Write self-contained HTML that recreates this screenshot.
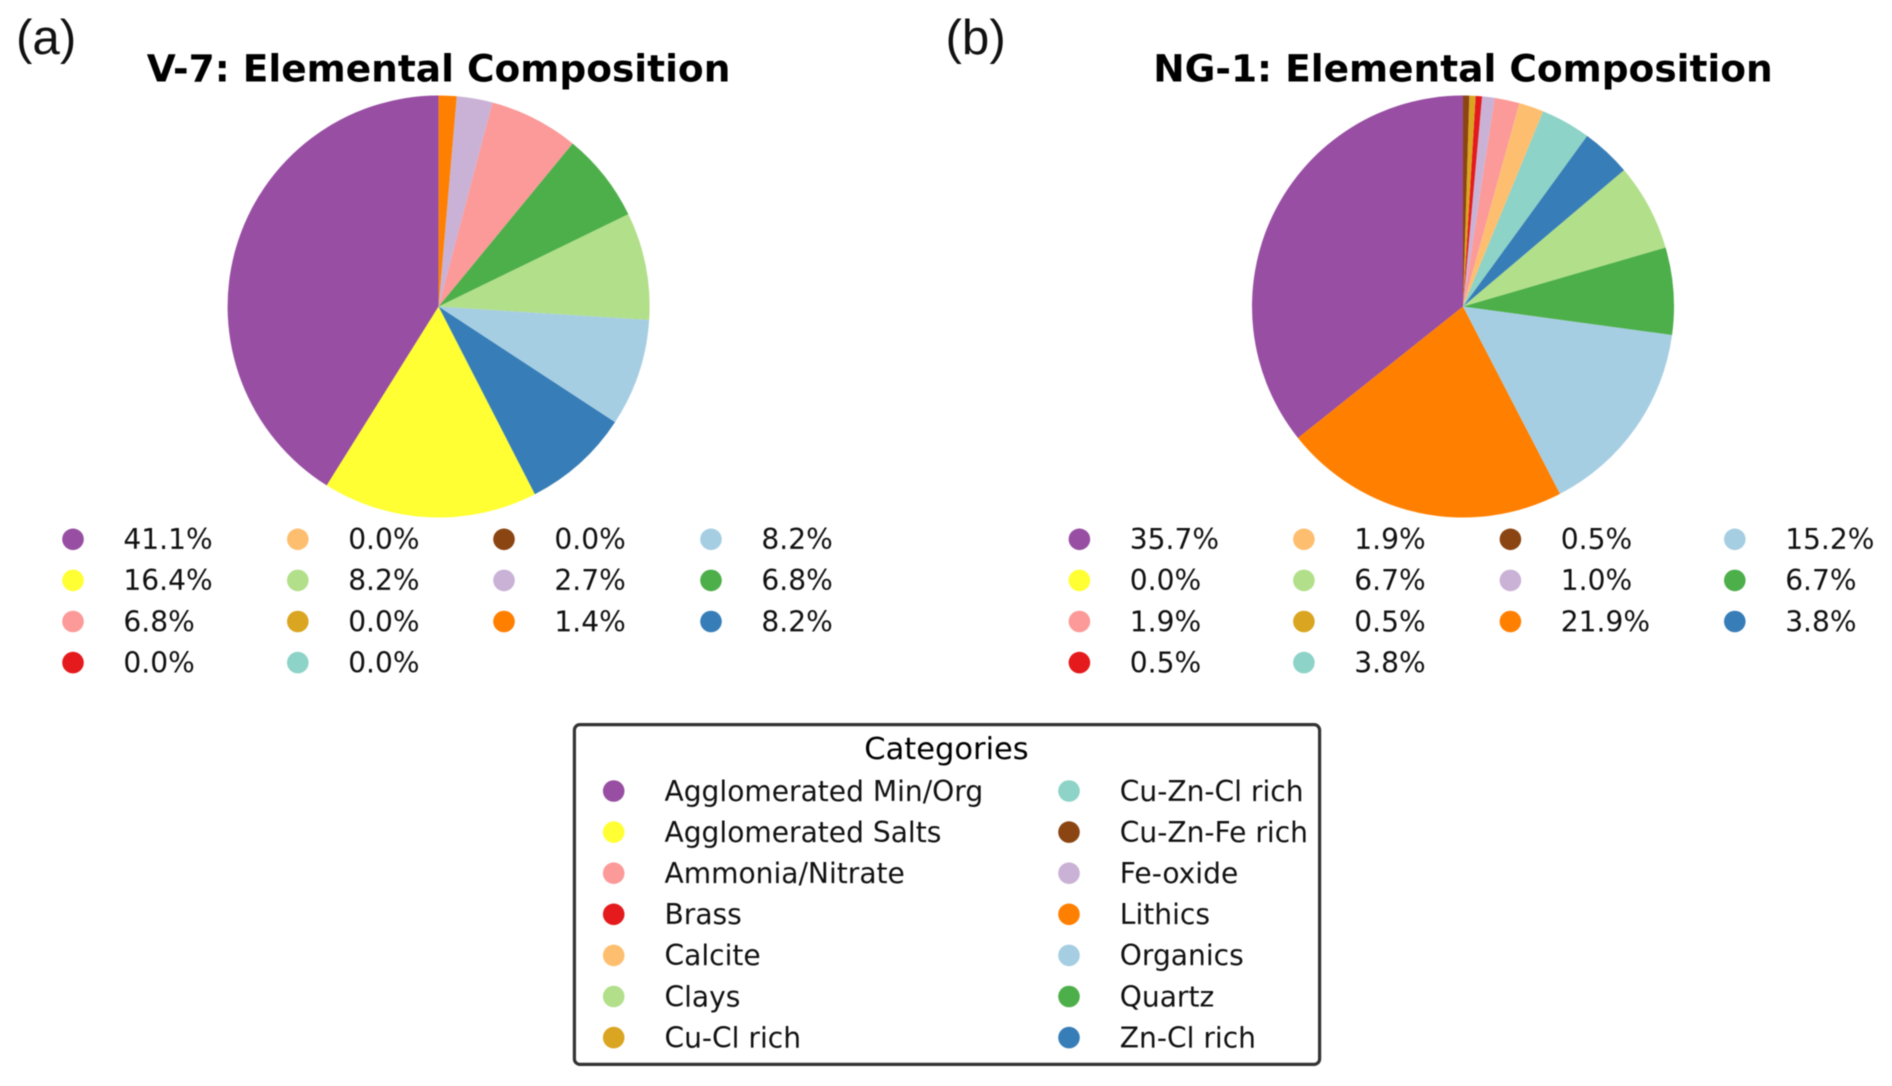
<!DOCTYPE html>
<html lang="en">
<head>
<meta charset="utf-8">
<title>Elemental Composition Pie Charts</title>
<style>
  html, body { margin: 0; padding: 0; background: #fff; }
  body { width: 1892px; height: 1086px; overflow: hidden; }
  svg { display: block; filter: blur(0.45px); }
  text { font-family: "DejaVu Sans", "Liberation Sans", sans-serif; fill: #000; }
  .panel-tag { font-family: "Liberation Sans", sans-serif; font-size: 49.3px; fill: #111; }
  .pie-title { font-weight: bold; font-size: 37.5px; text-anchor: middle; }
  .legend-text { font-size: 28.1px; dominant-baseline: central; fill: #111; }
</style>
</head>
<body>
<svg id="figure" xmlns="http://www.w3.org/2000/svg" width="1892" height="1086" viewBox="0 0 1892 1086">
  <rect x="0" y="0" width="1892" height="1086" fill="#ffffff"/>
  <text class="panel-tag" x="16" y="54">(a)</text>
  <text class="panel-tag" x="945.5" y="54">(b)</text>
  <text class="pie-title" x="438.6" y="81.4">V-7: Elemental Composition</text>
  <text class="pie-title" x="1463" y="81.4">NG-1: Elemental Composition</text>
  <g id="pie-a"></g>
  <g id="pie-b"></g>
  <g id="values-a"></g>
  <g id="values-b"></g>
  <g id="categories">
    <rect x="574.4" y="724.6" width="745.2" height="339.8" rx="5.5" ry="5.5" fill="#ffffff" stroke="#333333" stroke-width="3.2"/>
    <text x="946.5" y="759" font-size="30.5" text-anchor="middle" fill="#111">Categories</text>
  </g>
</svg>
<script>
// Chart data
const categories = [
  'Agglomerated Min/Org', 'Agglomerated Salts', 'Ammonia/Nitrate', 'Brass',
  'Calcite', 'Clays', 'Cu-Cl rich', 'Cu-Zn-Cl rich', 'Cu-Zn-Fe rich',
  'Fe-oxide', 'Lithics', 'Organics', 'Quartz', 'Zn-Cl rich'
];
const categoryColors = [
  '#984ea3', '#ffff33', '#fb9a99', '#e41a1c',
  '#fdbf6f', '#b2df8a', '#daa520', '#8dd3c7', '#8b4513',
  '#cab2d6', '#ff7f00', '#a6cee3', '#4daf4a', '#377eb8'
];
const v7Values  = [41.10, 16.44, 6.84, 0.0, 0.0, 8.22, 0.0, 0.0, 0.0, 2.74, 1.37, 8.22, 6.84, 8.22];
const ng1Values = [35.71, 0.0, 1.90, 0.485, 1.90, 6.67, 0.48, 3.81, 0.475, 0.96, 21.90, 15.24, 6.67, 3.81];

const SVG_NS = 'http://www.w3.org/2000/svg';

// Pie angle: 0 at 12 o'clock, growing counter-clockwise
function angleScale(value, total) {
  return value / total * Math.PI * 2;
}
function polarX(cx, r, a) { return cx - r * Math.sin(a); }
function polarY(cy, r, a) { return cy - r * Math.cos(a); }

function drawPie(groupId, values, cx, cy, r, prefix) {
  const group = document.getElementById(groupId);
  const total = values.reduce(function (s, v) { return s + v; }, 0);
  const order = values.map(function (v, i) { return i; })
    .filter(function (i) { return values[i] > 0; })
    .sort(function (p, q) { return (values[q] - values[p]) || (q - p); });
  let start = 0;
  order.forEach(function (i) {
    const sweep = angleScale(values[i], total);
    const end = start + sweep;
    const large = sweep > Math.PI ? 1 : 0;
    const d = 'M' + cx + ' ' + cy +
      'L' + polarX(cx, r, start).toFixed(2) + ' ' + polarY(cy, r, start).toFixed(2) +
      'A' + r + ' ' + r + ' 0 ' + large + ' 0 ' +
      polarX(cx, r, end).toFixed(2) + ' ' + polarY(cy, r, end).toFixed(2) + 'Z';
    const slice = document.createElementNS(SVG_NS, 'path');
    slice.setAttribute('d', d);
    slice.setAttribute('fill', categoryColors[i]);
    
    
    group.appendChild(slice);
    start = end;
  });
}

function addLegendEntry(group, name, label, color, markerX, textX, rowY, radius) {
  const entry = document.createElementNS(SVG_NS, 'g');
  
  
  const dot = document.createElementNS(SVG_NS, 'circle');
  dot.setAttribute('cx', markerX);
  dot.setAttribute('cy', rowY);
  dot.setAttribute('r', radius);
  dot.setAttribute('fill', color);
  
  
  const txt = document.createElementNS(SVG_NS, 'text');
  txt.setAttribute('x', textX);
  txt.setAttribute('y', rowY + 0.3);
  txt.setAttribute('class', 'legend-text');
  
  
  txt.textContent = label;
  entry.appendChild(dot);
  entry.appendChild(txt);
  group.appendChild(entry);
}

// Percent legend: 4 columns filled top-to-bottom (4, 4, 3, 3 rows)
function drawValueLegend(groupId, values, firstMarkerX, columnStep, prefix) {
  const group = document.getElementById(groupId);
  const columnSizes = [4, 4, 3, 3];
  let column = 0, row = 0;
  values.forEach(function (v, i) {
    const markerX = firstMarkerX + columnStep(column);
    addLegendEntry(group, prefix + '-value-' + categories[i].toLowerCase().replace(/[^a-z0-9]+/g, '-'),
      v.toFixed(1) + '%', categoryColors[i], markerX, markerX + 50.4, 539.3 + row * 41.1, 10.8);
    row++;
    if (row === columnSizes[column]) { row = 0; column++; }
  });
}

function v7Column(c) { return c === 0 ? 0 : c === 1 ? 224.8 : c === 2 ? 431 : 638; }
function ng1Column(c) { return c === 0 ? 0 : c === 1 ? 224.5 : c === 2 ? 431 : 655.4; }

drawPie('pie-a', v7Values, 438.6, 306.5, 211, 'v7');
drawPie('pie-b', ng1Values, 1463, 306.5, 211, 'ng1');
drawValueLegend('values-a', v7Values, 73, v7Column, 'v7');
drawValueLegend('values-b', ng1Values, 1079.4, ng1Column, 'ng1');

// Shared category legend: two columns of seven
const catGroup = document.getElementById('categories');
categories.forEach(function (name, i) {
  const col = i < 7 ? 0 : 1;
  const row = i % 7;
  const markerX = col === 0 ? 613.7 : 1069;
  addLegendEntry(catGroup, 'category-' + name.toLowerCase().replace(/[^a-z0-9]+/g, '-'),
    name, categoryColors[i], markerX, markerX + 50.8, 791 + row * 41.1, 10.8);
});
</script>
</body>
</html>
